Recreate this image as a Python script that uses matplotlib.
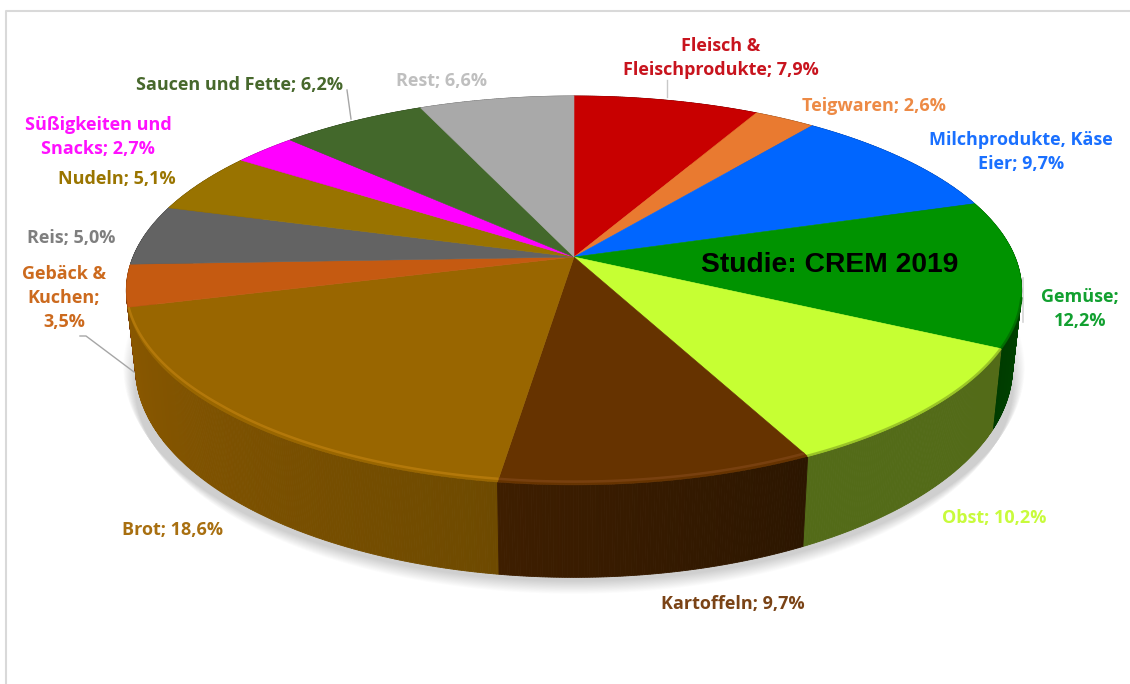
import numpy as np
import matplotlib
matplotlib.use('Agg')
import matplotlib.pyplot as plt
from matplotlib.colors import to_rgb

# Anteile in Prozent, im Uhrzeigersinn ab 12 Uhr
labels = ['Fleisch &\nFleischprodukte; 7,9%', 'Teigwaren; 2,6%', 'Milchprodukte, Käse\nEier; 9,7%',
          'Gemüse;\n12,2%', 'Obst; 10,2%', 'Kartoffeln; 9,7%', 'Brot; 18,6%',
          'Gebäck &\nKuchen;\n3,5%', 'Reis; 5,0%', 'Nudeln; 5,1%',
          'Süßigkeiten und\nSnacks; 2,7%', 'Saucen und Fette; 6,2%', 'Rest; 6,6%']
values = [7.9, 2.6, 9.7, 12.2, 10.2, 9.7, 18.6, 3.5, 5.0, 5.1, 2.7, 6.2, 6.6]

top_colors = ['#c80000', '#e97a30', '#0066ff', '#009300', '#c6ff33', '#663300', '#996600',
              '#c55a11', '#636363', '#997300', '#ff00ff', '#43682b', '#a9a9a9']
wall_start = ['#600000', '#703a10', '#003080', '#005000', '#536b18', '#2c1600', '#6e4a00',
              '#7a3808', '#333333', '#5a4400', '#800080', '#223515', '#555555']
wall_end = ['#600000', '#703a10', '#003080', '#003c00', '#536b18', '#3e1e00', '#8a5800',
            '#7a3808', '#333333', '#5a4400', '#800080', '#223515', '#555555']
rim_colors = ['#c80000', '#e97a30', '#0066ff', '#006e00', '#94bc26', '#7c4312', '#b87c0c',
              '#c55a11', '#636363', '#997300', '#ff00ff', '#43682b', '#a9a9a9']
rim_inset = [0, 0, 0, 0.002, 0.002, 0.012, 0.012, 0, 0, 0, 0, 0, 0]
text_colors = ['#c8141e', '#ed8a45', '#1a70ff', '#12a030', '#c8fb3c', '#7a4316', '#a86f10',
               '#cc6a1e', '#7f7f7f', '#9a7500', '#ff10ff', '#47682c', '#bfbfbf']
label_x = [721, 874, 1021, 1080, 994, 733, 173, 64, 71, 117, 98, 239, 441]
label_y = [58, 106, 152, 309, 518, 604, 530, 298, 238, 179, 137, 85, 81]

# Perspektive: Kreis -> Ellipse
k = 0.172
cx = 574


def project(theta, radius=1.0, cy=257, rx=441, ry=188.7):
    u = radius * np.sin(theta)
    v = -radius * np.cos(theta)
    d = 1 - k * v
    return cx + rx * u / d, cy + ry * v / d


def bottom(theta):
    return project(theta, cy=331, rx=432, ry=204)


values = np.array(values)
edges = np.radians(np.concatenate([[0], np.cumsum(values)]) / values.sum() * 360)

fig = plt.figure(figsize=(11.3, 6.84), dpi=100)
ax = fig.add_axes([0, 0, 1, 1])
ax.set_xlim(0, 1130)
ax.set_ylim(684, 0)
ax.axis('off')

# Rahmen oben und links
ax.plot([6, 6, 1130], [684, 11, 11], color='#d9d9d9', lw=1.5, zorder=1)

# weicher Schatten unter der Torte
full = np.linspace(0, 2 * np.pi, 400)
for i in range(24):
    sx, sy = project(full, cy=331 + i * 0.8, rx=432 + 12 - i * 0.5, ry=204 + 3 - i * 0.2)
    ax.fill(sx, sy, color='#606060', alpha=0.01, lw=0, zorder=2)

# Seitenwand: Streifen von hinten nach vorne
strips = []
for i in range(len(values)):
    ts = np.linspace(edges[i], edges[i + 1], max(int(values[i] * 12), 4))
    for j in range(len(ts) - 1):
        mix = j / (len(ts) - 2) if len(ts) > 2 else 0
        col = (1 - mix) * np.array(to_rgb(wall_start[i])) + mix * np.array(to_rgb(wall_end[i]))
        strips.append((-np.cos((ts[j] + ts[j + 1]) / 2), ts[j], ts[j + 1], col))
strips.sort(key=lambda s: s[0])
for _, t0, t1, col in strips:
    x0, y0 = project(np.array([t0, t1]))
    x1, y1 = bottom(np.array([t1, t0]))
    ax.fill(np.r_[x0, x1], np.r_[y0, y1], color=col, lw=0.6, zorder=3)

# Oberseite
for i in range(len(values)):
    ts = np.linspace(edges[i], edges[i + 1], 120)
    x, y = project(ts)
    ax.fill(np.r_[cx, x], np.r_[257, y], color=top_colors[i], lw=0.4, zorder=4)
    # Rand vorne, läuft zur Seite hin aus
    if rim_inset[i] > 0:
        front = -np.cos(ts)
        radius = 1 - rim_inset[i] * np.clip((front - 0.2) / 0.5, 0, 1)
        mask = front > 0.2
        rx_, ry_ = project(ts[mask], radius=radius[mask])
        ax.plot(rx_, ry_, color=rim_colors[i], lw=1.8, alpha=0.85, zorder=5, solid_capstyle='butt')

# schmaler Schatten rechts am Rand
ax.plot([1022.5, 1022.5], [278, 322], color='#c4c4c4', lw=1.2, alpha=0.7, zorder=2)

# Führungslinien
ax.plot([80, 86, 134], [336, 336, 372], color='#a6a6a6', lw=1, zorder=6)
ax.plot([347, 351], [90, 119], color='#a6a6a6', lw=1, zorder=6)
ax.plot([667, 667], [80, 97], color='#c8c8c8', lw=1, zorder=6)

# Beschriftung
for name, lx, ly, col in zip(labels, label_x, label_y, text_colors):
    ax.text(lx, ly, name, color=col, ha='center', va='center', fontsize=13,
            family='Open Sans', fontweight='bold', linespacing=1.4, zorder=7)

ax.text(829.5, 265, 'Studie: CREM 2019', color='black', ha='center', va='center',
        fontsize=20.3, family='Liberation Sans', fontweight='bold', zorder=7)

fig.savefig('out.png', dpi=100)
